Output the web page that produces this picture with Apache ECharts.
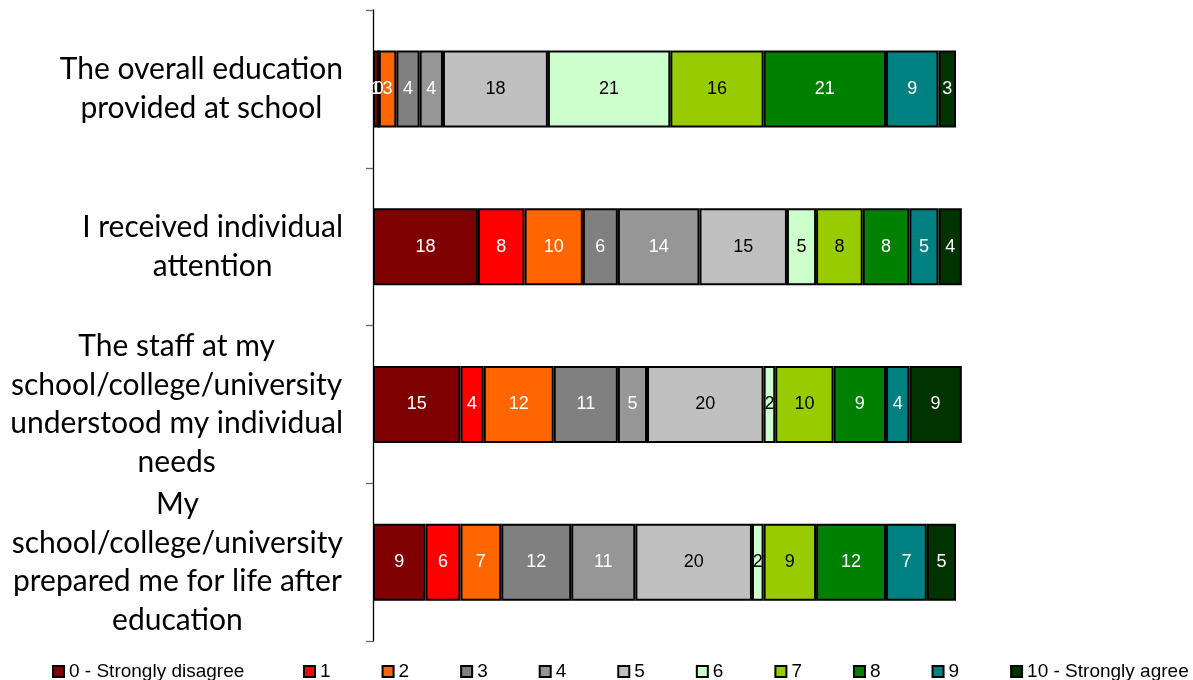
<!DOCTYPE html>
<html>
<head>
<meta charset="utf-8">
<title>School experience ratings</title>
<script src="https://cdn.jsdelivr.net/npm/echarts@6/dist/echarts.min.js"></script>
<style>
  html, body { margin: 0; padding: 0; background: #ffffff; }
  #chart { width: 1193px; height: 680px; }
</style>
</head>
<body>
<div id="chart"></div>
<script>
// Statements rated on a 0-10 scale (top to bottom)
const questions = [
  'The overall education\nprovided at school',
  'I received individual\nattention',
  'The staff at my\nschool/college/university\nunderstood my individual\nneeds',
  'My\nschool/college/university\nprepared me for life after\neducation'
];

// Score categories (legend order)
const scores = ['0 - Strongly disagree', '1', '2', '3', '4', '5', '6', '7', '8', '9', '10 - Strongly agree'];

// Percentage of responses per score, one array per statement
const overallEducation     = [1, 0, 3, 4, 4, 18, 21, 16, 21, 9, 3];
const individualAttention  = [18, 8, 10, 6, 14, 15, 5, 8, 8, 5, 4];
const understoodNeeds      = [15, 4, 12, 11, 5, 20, 2, 10, 9, 4, 9];
const preparedForLife      = [9, 6, 7, 12, 11, 20, 2, 9, 12, 7, 5];

const rows = [overallEducation, individualAttention, understoodNeeds, preparedForLife];

const scoreColors = ['#7f0000', '#ff0000', '#ff6600', '#808080', '#969696', '#c0c0c0',
                     '#ccffcc', '#99cc00', '#008000', '#008080', '#003300'];
const labelColors = ['#fff', '#fff', '#fff', '#fff', '#fff', '#000',
                     '#000', '#000', '#fff', '#fff', '#fff'];

const labelFont = 'Liberation Sans, Arial, sans-serif';
const categoryFont = 'Lato, "Open Sans", sans-serif';

const series = scores.map((name, s) => ({
  name: name,
  type: 'bar',
  stack: 'total',
  barWidth: 77,
  clip: false,
  data: rows.map(r => r[s]),
  itemStyle: { color: scoreColors[s], borderColor: '#000', borderWidth: 2 },
  label: {
    show: true,
    position: 'inside',
    color: labelColors[s],
    fontFamily: labelFont,
    fontSize: 18
  },
  emphasis: { disabled: true }
}));

// Shared legend look; the first entry sits alone, the rest are evenly spaced
const legendBase = {
  top: 657,
  icon: 'rect',
  itemWidth: 11,
  itemHeight: 11,
  selectedMode: false,
  textStyle: { fontFamily: labelFont, fontSize: 19, color: '#000' }
};

const chart = echarts.init(document.getElementById('chart'), null, { renderer: 'canvas' });
chart.setOption({
  animation: false,
  backgroundColor: '#ffffff',
  grid: { left: 373, right: 120.4, top: 10, bottom: 39 },
  xAxis: {
    type: 'value',
    min: 0,
    max: 120,
    show: false
  },
  yAxis: {
    type: 'category',
    inverse: true,
    data: questions,
    axisLine: { show: true, lineStyle: { color: '#000', width: 1.3 } },
    axisTick: { show: true, length: 7, lineStyle: { color: '#666', width: 1.3 } },
    axisLabel: {
      margin: 30,
      align: 'right',
      fontFamily: categoryFont,
      fontSize: 30,
      lineHeight: 38.5,
      color: '#000',
      formatter: v => v.split('\n').map(l => '{c|' + l + '}').join('\n'),
      rich: {
        c: { align: 'center', fontFamily: categoryFont, fontSize: 30, lineHeight: 38.5, color: '#000' }
      }
    }
  },
  legend: [
    Object.assign({}, legendBase, { left: 47, data: scores.slice(0, 1) }),
    Object.assign({}, legendBase, { left: 298, width: 950, itemGap: 51, data: scores.slice(1) })
  ],
  series: series
});
</script>
</body>
</html>
